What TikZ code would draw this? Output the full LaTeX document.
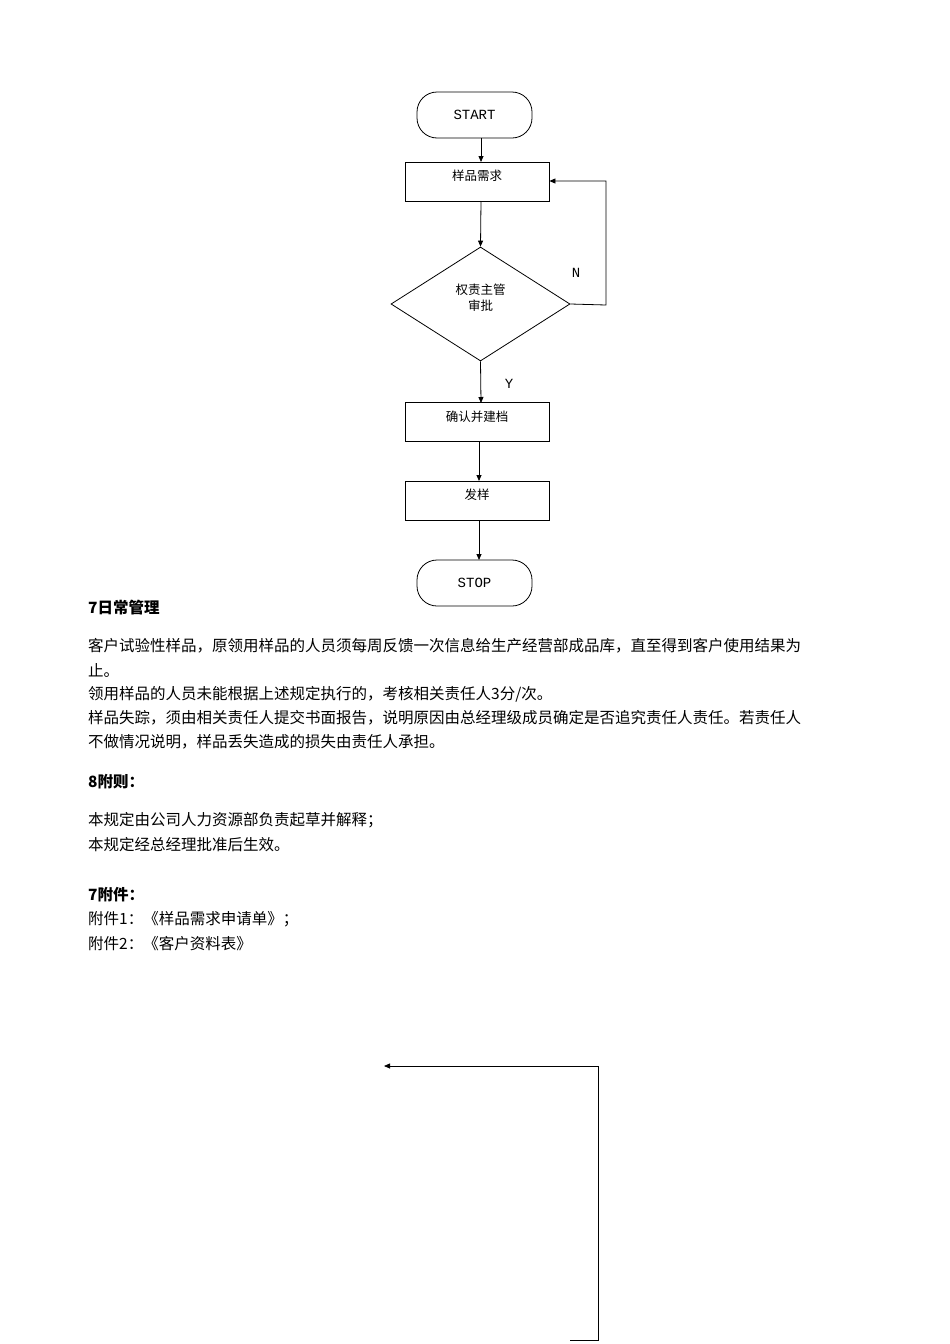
\documentclass[tikz,border=0pt]{standalone}
\usepackage{fontspec}
\newfontfamily\cjk{Noto Sans CJK SC}
\newfontfamily\mono{Liberation Mono}
\usetikzlibrary{arrows.meta,shapes.geometric}
\begin{document}
\begin{tikzpicture}[x=1pt,y=-1pt,
  box/.style={draw,line width=0.8pt,minimum width=144pt,minimum height=39pt,inner sep=0pt},
  term/.style={draw,line width=0.8pt,rounded corners=20pt,minimum width=115pt,minimum height=46pt,font=\mono\fontsize{14}{16}\selectfont},
  arr/.style={line width=0.8pt,-{Triangle[length=6pt,width=5pt]}},
  lbl/.style={font=\cjk\fontsize{12.5}{15}\selectfont},
  body/.style={anchor=west,inner sep=0pt,font=\cjk\fontsize{15.5}{18}\selectfont},
  head/.style={anchor=west,inner sep=0pt,font=\cjk\bfseries\fontsize{15.5}{18}\selectfont}]
\useasboundingbox (0,0) rectangle (950,1344);
\node[term] (start) at (474.5,115) {START};
\node[box] (b1) at (477,181.5) {};
\node[lbl] at (477,176) {样品需求};
\node[draw,line width=0.8pt,diamond,minimum width=179pt,minimum height=114pt,inner sep=0pt,aspect=1.57] (d) at (480.5,304) {};
\node[lbl,align=center,font=\cjk\fontsize{12.5}{16}\selectfont] at (480.5,298) {权责主管\\审批};
\node[box] (b2) at (477,422) {};
\node[lbl] at (477,417) {确认并建档};
\node[box] (b3) at (477,500.5) {};
\node[lbl] at (477,495) {发样};
\node[term] (stop) at (474.5,583) {STOP};
\draw[arr] (start.south -| 481,0) -- (481,162);
\draw[arr] (481,201) -- (d.north);
\draw[arr] (d.east) -- (606,305) -- (606,181) -- (b1.east |- 0,181);
\node[font=\mono\fontsize{14}{16}\selectfont] (n) at (576,273) {N};
\draw[arr] (d.south) -- (481,403);
\node[font=\mono\fontsize{14}{16}\selectfont] (y) at (509,384) {Y};
\draw[arr] (479,441) -- (479,481);
\draw[arr] (479,520) -- (479,560);
\node[head] (h7) at (88,608) {7日常管理};
\node[body] (p1) at (88,646) {客户试验性样品，原领用样品的人员须每周反馈一次信息给生产经营部成品库，直至得到客户使用结果为};
\node[body] (p2) at (88,670) {止。};
\node[body] (p3) at (88,694) {领用样品的人员未能根据上述规定执行的，考核相关责任人3分/次。};
\node[body] (p4) at (88,718) {样品失踪，须由相关责任人提交书面报告，说明原因由总经理级成员确定是否追究责任人责任。若责任人};
\node[body] (p5) at (88,742) {不做情况说明，样品丢失造成的损失由责任人承担。};
\node[head] (h8) at (88,782) {8附则：};
\node[body] (p6) at (88,820) {本规定由公司人力资源部负责起草并解释；};
\node[body] (p7) at (88,845) {本规定经总经理批准后生效。};
\node[head] (h9) at (88,895) {7附件：};
\node[body] (p8) at (88,919) {附件1：《样品需求申请单》；};
\node[body] (p9) at (88,944) {附件2：《客户资料表》};
\coordinate (c1) at (570,1340);
\coordinate (c2) at (384,1066);
\draw[arr] (c1) -- (598,1340) -- (598,1066) -- (c2);
\end{tikzpicture}
\end{document}
